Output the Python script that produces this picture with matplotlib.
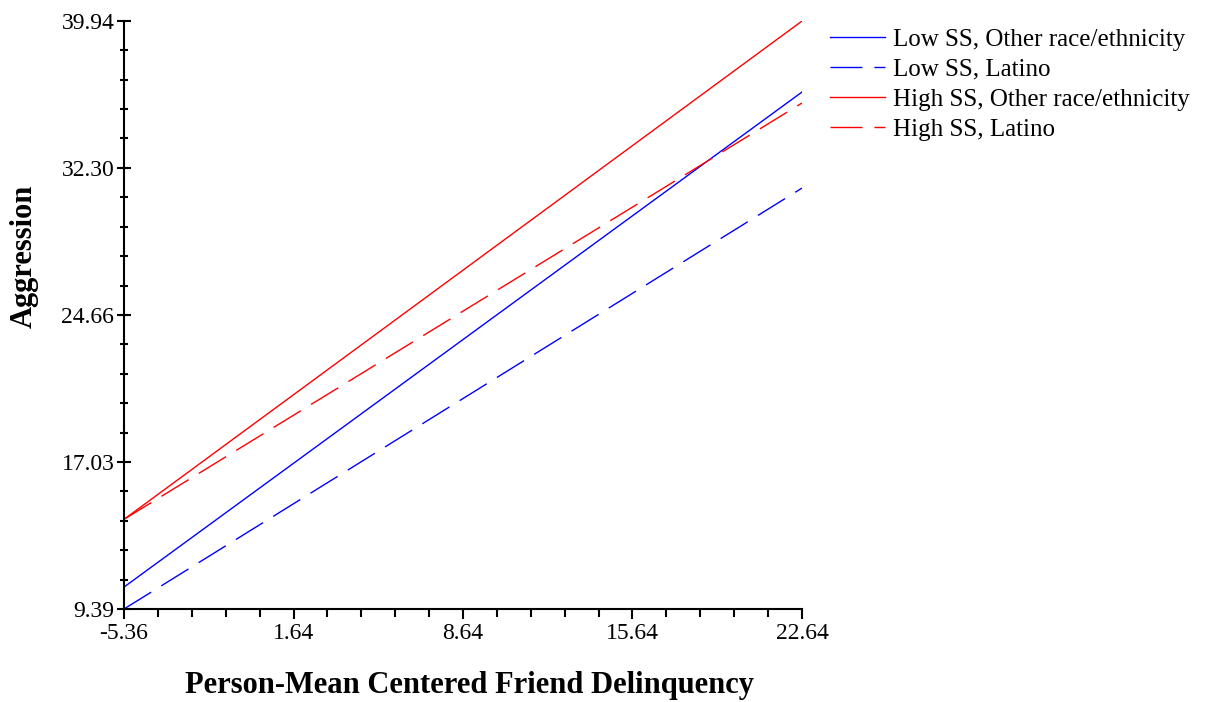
import matplotlib
matplotlib.use("Agg")
import matplotlib.pyplot as plt
from matplotlib.ticker import FixedLocator, AutoMinorLocator

# Data
x_range = [-5.36, 22.64]
series_labels = [
    "Low SS, Other race/ethnicity",
    "Low SS, Latino",
    "High SS, Other race/ethnicity",
    "High SS, Latino",
]
low_ss_other = [10.53, 36.25]
low_ss_latino = [9.39, 31.26]
high_ss_other = [14.05, 39.94]
high_ss_latino = [14.05, 35.68]
x_ticks = [-5.36, 1.64, 8.64, 15.64, 22.64]
y_ticks = [9.39, 17.03, 24.66, 32.30, 39.94]
x_tick_labels = ["-5.36", "1.64", "8.64", "15.64", "22.64"]
y_tick_labels = ["9.39", "17.03", "24.66", "32.30", "39.94"]

plt.rcParams['font.family'] = ['Liberation Serif', 'DejaVu Serif']

fig = plt.figure(figsize=(12.16, 7.02), dpi=100)
ax = fig.add_axes([0.102, 0.1325, 0.5575, 0.8375])

dash = (23, 8.6)
series = [low_ss_other, low_ss_latino, high_ss_other, high_ss_latino]
colors = ["#0000ff", "#0000ff", "#ff0000", "#ff0000"]
styles = [None, dash, None, dash]
handles = []
for ys, c, st, lab in zip(series, colors, styles, series_labels):
    if st is None:
        h, = ax.plot(x_range, ys, color=c, lw=1.0, label=lab)
    else:
        h, = ax.plot(x_range, ys, color=c, lw=1.0, dashes=st, label=lab)
    handles.append(h)

ax.set_xlim(x_range[0], x_range[1])
ax.set_ylim(y_ticks[0], y_ticks[-1])
ax.xaxis.set_major_locator(FixedLocator(x_ticks))
ax.yaxis.set_major_locator(FixedLocator(y_ticks))
ax.set_xticklabels(x_tick_labels)
ax.set_yticklabels(y_tick_labels)
ax.xaxis.set_minor_locator(AutoMinorLocator(5))
ax.yaxis.set_minor_locator(AutoMinorLocator(5))

for s in ["top", "right"]:
    ax.spines[s].set_visible(False)
for s in ["left", "bottom"]:
    ax.spines[s].set_linewidth(1.5)
    ax.spines[s].set_color("black")

ax.tick_params(axis="x", which="both", direction="out", width=1.5, labelsize=17, pad=3)
ax.tick_params(axis="x", which="major", length=7)
ax.tick_params(axis="x", which="minor", length=6)
ax.tick_params(axis="y", which="both", direction="inout", width=1.5, labelsize=17, pad=2)
ax.tick_params(axis="y", which="major", length=10)
ax.tick_params(axis="y", which="minor", length=6)

ax.set_xlabel("Person-Mean Centered Friend Delinquency", fontsize=22, fontweight="bold")
ax.set_ylabel("Aggression", fontsize=22, fontweight="bold")
ax.xaxis.set_label_coords(0.509, -0.105)
ax.yaxis.set_label_coords(-0.126, 0.60)

leg = fig.legend(handles=handles, loc="upper left", bbox_to_anchor=(0.6745, 0.974),
                 frameon=False, fontsize=18, handlelength=2.2, handletextpad=0.32,
                 labelspacing=0.3, borderaxespad=0)

fig.savefig("out.png", dpi=100)
